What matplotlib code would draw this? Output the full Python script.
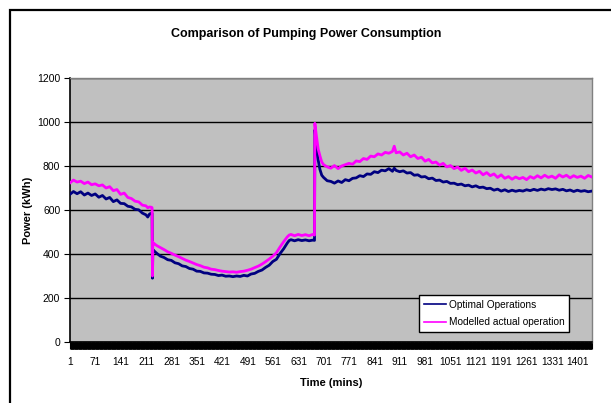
import matplotlib
matplotlib.use("Agg")
import matplotlib.pyplot as plt
from matplotlib.patches import Rectangle
import numpy as np

plt.rcParams['font.family'] = ['Liberation Sans Narrow', 'Liberation Sans', 'DejaVu Sans']

title = "Comparison of Pumping Power Consumption"
series_names = ["Optimal Operations", "Modelled actual operation"]
x_label = "Time (mins)"
y_label = "Power (kWh)"

minutes = [1, 10, 20, 30, 40, 50, 60, 70, 80, 90, 100, 110, 120, 130, 140, 150, 160, 170, 180, 190, 200, 210,
           215, 220, 226, 227, 228, 229, 235,
           240, 250, 260, 270, 280, 290, 300, 310, 320, 330, 340, 350, 360, 370, 380, 390, 400, 410, 420, 430,
           440, 450, 460, 470, 480, 490, 500, 510, 520, 530, 540, 550, 560, 570, 580, 590, 600,
           605, 610, 620, 630, 640, 650, 660, 670, 675, 676,
           680, 685, 690, 695, 700,
           710, 720, 730, 740, 750, 760, 770, 780, 790, 800, 810, 820, 830, 840, 850, 860, 870, 880, 890,
           895,
           900, 910, 920, 930, 940, 950, 960, 970, 980, 990, 1000, 1010, 1020, 1030, 1040, 1050, 1060, 1070,
           1080, 1090, 1100, 1110, 1120, 1130, 1140, 1150, 1160, 1170, 1180, 1190, 1200, 1210, 1220, 1230,
           1240, 1250, 1260, 1270, 1280, 1290, 1300, 1310, 1320, 1330, 1340, 1350, 1360, 1370, 1380, 1390,
           1400, 1410, 1420, 1430, 1440]

optimal = [672, 684, 674, 683, 668, 677, 666, 673, 658, 666, 650, 657, 638, 646, 630, 629, 617, 614, 603, 601, 586, 578,
           568, 582, 586, 585, 290, 420, 410,
           403, 390, 384, 374, 371, 360, 356, 346, 343, 334, 331, 322, 321, 314, 313, 308, 307, 302, 304, 299,
           300, 297, 300, 298, 303, 300, 309, 312, 321, 327, 339, 349, 366, 376, 402, 424, 450,
           461, 465, 460, 465, 461, 464, 460, 463, 462, 964,
           900, 828, 784, 758, 748,
           733, 730, 722, 732, 725, 738, 733, 744, 746, 756, 752, 764, 762, 774, 770, 781, 778, 788, 776,
           790,
           780, 774, 778, 768, 770, 758, 760, 750, 752, 742, 745, 734, 736, 727, 730, 721, 722, 715,
           718, 710, 713, 705, 710, 702, 704, 697, 699, 690, 695, 686, 692, 684, 690, 685,
           689, 686, 692, 688, 694, 689, 695, 691, 697, 693, 696, 690, 694, 687, 691, 684,
           690, 685, 688, 683, 686]

modelled = [724, 736, 727, 731, 720, 727, 715, 719, 710, 714, 700, 706, 688, 693, 671, 677, 657, 652, 640, 637, 622, 619,
            610, 614, 612, 610, 300, 452, 444,
            438, 429, 420, 410, 403, 395, 388, 380, 372, 366, 359, 352, 347, 340, 337, 331, 329, 325, 322, 320,
            318, 319, 317, 320, 322, 326, 331, 338, 345, 354, 365, 377, 390, 406, 432, 456, 478,
            486, 489, 483, 489, 484, 488, 483, 489, 486, 994,
            940, 878, 846, 818, 806,
            796, 790, 802, 788, 800, 806, 812, 808, 823, 820, 834, 830, 845, 842, 855, 850, 862, 858, 866,
            890,
            860, 864, 850, 858, 842, 850, 834, 840, 822, 830, 814, 818, 804, 812, 796, 802, 788, 795,
            780, 790, 774, 782, 768, 776, 760, 770, 756, 764, 748, 760, 744, 752, 740, 750,
            742, 748, 738, 752, 744, 756, 746, 758, 748, 754, 744, 760, 750, 758, 746, 756,
            748, 754, 744, 757, 750]

x_tick_labels = ["1", "71", "141", "211", "281", "351", "421", "491", "561", "631", "701", "771", "841",
                 "911", "981", "1051", "1121", "1191", "1261", "1331", "1401"]
y_ticks = [0, 200, 400, 600, 800, 1000, 1200]

assert len(minutes) == len(optimal) == len(modelled)

W, H = 611, 403
fig = plt.figure(figsize=(W / 100, H / 100), dpi=100)
fig.patch.set_facecolor("white")

# outer chart border
fig.patches.append(Rectangle((10 / W, -0.2), 1.2, 1.2 - 10 / H, transform=fig.transFigure,
                             fill=False, edgecolor="black", linewidth=1.6, clip_on=False))

ax = fig.add_axes([70 / W, (H - 342) / H, 522 / W, 264 / H])
ax.set_facecolor("#C0C0C0")

ax.plot(minutes, optimal, color="#000080", linewidth=2.0, label=series_names[0], zorder=3)
ax.plot(minutes, modelled, color="#FF00FF", linewidth=2.0, label=series_names[1], zorder=4)

ax.set_xlim(0.5, 1440.5)
ax.set_ylim(0, 1200)
ax.set_yticks(y_ticks)
ax.set_yticklabels([str(v) for v in y_ticks], fontsize=7.5)
ax.yaxis.grid(True, color="black", linewidth=1.0)
ax.set_axisbelow(True)

tick_pos = [int(s) for s in x_tick_labels]
ax.set_xticks(tick_pos)
ax.set_xticklabels(x_tick_labels, fontsize=7.3)
ax.set_xticks(np.arange(1, 1441, 1), minor=True)
ax.tick_params(axis="x", which="both", length=5, width=0.8, direction="out", pad=6, color="black")
ax.tick_params(axis="y", which="major", length=4, width=0.8, direction="out", pad=3)

for side in ("top", "right"):
    ax.spines[side].set_color("#808080")
    ax.spines[side].set_linewidth(1.0)
for side in ("left", "bottom"):
    ax.spines[side].set_color("black")
    ax.spines[side].set_linewidth(1.2)

ax.set_xlabel(x_label, fontsize=8, fontweight="bold", labelpad=8)
ax.set_ylabel(y_label, fontsize=8, fontweight="bold")
ax.yaxis.set_label_coords((33 - 70) / 522, 0.5)

fig.text(306 / W, 1 - 34 / H, title, ha="center", va="center", fontsize=9, fontweight="bold")

leg = ax.legend(loc="lower left", bbox_to_anchor=(0.6686, 0.038), fontsize=7.3, frameon=True,
                fancybox=False, edgecolor="black", framealpha=1, borderpad=0.45, handlelength=2.2,
                handletextpad=0.3, labelspacing=0.75, borderaxespad=0)
leg.get_frame().set_linewidth(1.0)
for line in leg.get_lines():
    line.set_linewidth(1.2)

fig.savefig("out.png", dpi=100)
